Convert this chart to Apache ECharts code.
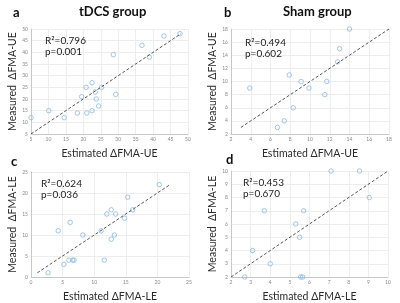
<!DOCTYPE html>
<html>
<head>
<meta charset="utf-8">
<script src="https://cdn.jsdelivr.net/npm/echarts@6/dist/echarts.min.js"></script>
<style>
  html, body { margin: 0; padding: 0; background: #fff; }
  #main { width: 400px; height: 303px; }
</style>
</head>
<body>
<div id="main"></div>
<script>
// panel a - tDCS, upper extremity
var estUE_tdcs = [5, 10.1, 14.5, 18.3, 21, 19.5, 20.8, 22.5, 22.5, 23.4, 23.7, 24.4, 25.2, 29.3, 28.6, 36.8, 38.9, 43.1, 47.7];
var measUE_tdcs = [12, 15, 12, 14, 14, 21, 25, 27, 15, 23, 20, 17, 25, 22, 39, 43, 38, 47, 48];
var lineA = [[5, 5], [48, 48]];

// panel b - sham, upper extremity
var estUE_sham = [3.9, 6.7, 7.4, 8.3, 7.9, 9.1, 9.9, 11.7, 11.5, 12.8, 13, 14];
var measUE_sham = [9, 3, 4, 6, 11, 10, 9, 10, 8, 13, 15, 18];
var lineB = [[3, 3], [18, 18]];

// panel c - tDCS, lower extremity
var estLE_tdcs = [2.7, 5.2, 4.3, 6.2, 6.0, 6.6, 6.8, 8.2, 11.1, 11.6, 12, 12.7, 12.7, 13.2, 13.4, 14.8, 15.3, 16.1, 20.3];
var measLE_tdcs = [1, 3, 11, 13, 4, 4, 4, 10, 11, 4, 15, 16, 9, 10, 15, 14, 19, 16, 22];
var lineC = [[1, 1], [22, 22]];

// panel d - sham, lower extremity
var estLE_sham = [2.7, 3.1, 3.7, 4, 5.3, 5.5, 5.55, 5.65, 5.7, 7.1, 8.55, 9.05];
var measLE_sham = [2, 4, 7, 3, 6, 5, 2, 2, 7, 10, 10, 8];
var lineD = [[2, 2], [10, 10]];

// axis ranges [xmin, xmax, xstep, ymin, ymax, ystep]
var rangeA = [5, 50, 5, 5, 50, 5];
var rangeB = [2, 18, 2, 2, 18, 2];
var rangeC = [0, 25, 5, 0, 25, 5];
var rangeD = [2, 10, 1, 2, 10, 1];

var stats = [['R²=0.796', 'p=0.001'], ['R²=0.494', 'p=0.602'], ['R²=0.624', 'p=0.036'], ['R²=0.453', 'p=0.670']];
var xNames = ['Estimated ΔFMA-UE', 'Estimated ΔFMA-UE', 'Estimated ΔFMA-LE', 'Estimated ΔFMA-LE'];
var yNames = ['Measured  ΔFMA-UE', 'Measured  ΔFMA-UE', 'Measured  ΔFMA-LE', 'Measured  ΔFMA-LE'];

var FONT = 'Lato';
var grids = [
  { left: 31, top: 29, width: 157, height: 105 },
  { left: 231, top: 29, width: 158, height: 105 },
  { left: 31, top: 172, width: 158, height: 105 },
  { left: 231, top: 171, width: 157, height: 106 }
];
var ranges = [rangeA, rangeB, rangeC, rangeD];
var xs = [estUE_tdcs, estUE_sham, estLE_tdcs, estLE_sham];
var ys = [measUE_tdcs, measUE_sham, measLE_tdcs, measLE_sham];
var lines = [lineA, lineB, lineC, lineD];

function pairs(a, b) {
  return a.map(function (v, i) { return [v, b[i]]; });
}

var xAxes = [], yAxes = [], series = [], texts = [];
ranges.forEach(function (r, i) {
  var common = {
    gridIndex: i,
    type: 'value',
    axisLine: { show: true, lineStyle: { color: '#c8c8c8', width: 1 } },
    axisTick: { show: false },
    splitLine: { show: true, lineStyle: { color: '#ededed', width: 1 } },
    axisLabel: { fontSize: 5, color: '#888', fontFamily: FONT, margin: 3 },
    nameLocation: 'middle',
    nameTextStyle: { fontSize: 10.5, color: '#2a2a2a', fontFamily: FONT }
  };
  xAxes.push(Object.assign({}, common, {
    min: r[0], max: r[1], interval: r[2],
    name: xNames[i], nameGap: 14
  }));
  yAxes.push(Object.assign({}, common, {
    min: r[3], max: r[4], interval: r[5],
    name: yNames[i], nameGap: 13, nameRotate: 90
  }));
  series.push({
    type: 'scatter',
    xAxisIndex: i, yAxisIndex: i,
    symbol: 'circle',
    symbolSize: 4.5,
    itemStyle: { color: 'rgba(0,0,0,0)', borderColor: '#7fb1e0', borderWidth: 0.9 },
    data: pairs(xs[i], ys[i]),
    silent: true
  });
  series.push({
    type: 'line',
    xAxisIndex: i, yAxisIndex: i,
    symbol: 'none',
    lineStyle: { color: '#555', width: 1, type: [3, 2] },
    data: lines[i],
    silent: true
  });
});

var statPos = [[45, 35], [245, 37], [41, 178], [243, 177]];
statPos.forEach(function (p, i) {
  texts.push({
    type: 'text', left: p[0], top: p[1], z: 100,
    style: { text: stats[i][0] + '\n' + stats[i][1], fontSize: 10, lineHeight: 11, fill: '#222', fontFamily: FONT }
  });
});
var letters = [['a', 13, 6], ['b', 224, 6], ['c', 11, 155], ['d', 226, 153]];
letters.forEach(function (l) {
  texts.push({
    type: 'text', left: l[1], top: l[2], z: 100,
    style: { text: l[0], fontSize: 13, fontWeight: 'bold', fill: '#111', fontFamily: FONT }
  });
});
texts.push({ type: 'text', left: 79, top: 5, z: 100, style: { text: 'tDCS group', fontSize: 13, fontWeight: 'bold', fill: '#111', fontFamily: FONT } });
texts.push({ type: 'text', left: 283, top: 5, z: 100, style: { text: 'Sham group', fontSize: 13, fontWeight: 'bold', fill: '#111', fontFamily: FONT } });

var chart = echarts.init(document.getElementById('main'), null, { renderer: 'canvas' });
chart.setOption({
  animation: false,
  backgroundColor: '#fff',
  grid: grids,
  xAxis: xAxes,
  yAxis: yAxes,
  series: series,
  graphic: texts
});
</script>
</body>
</html>
